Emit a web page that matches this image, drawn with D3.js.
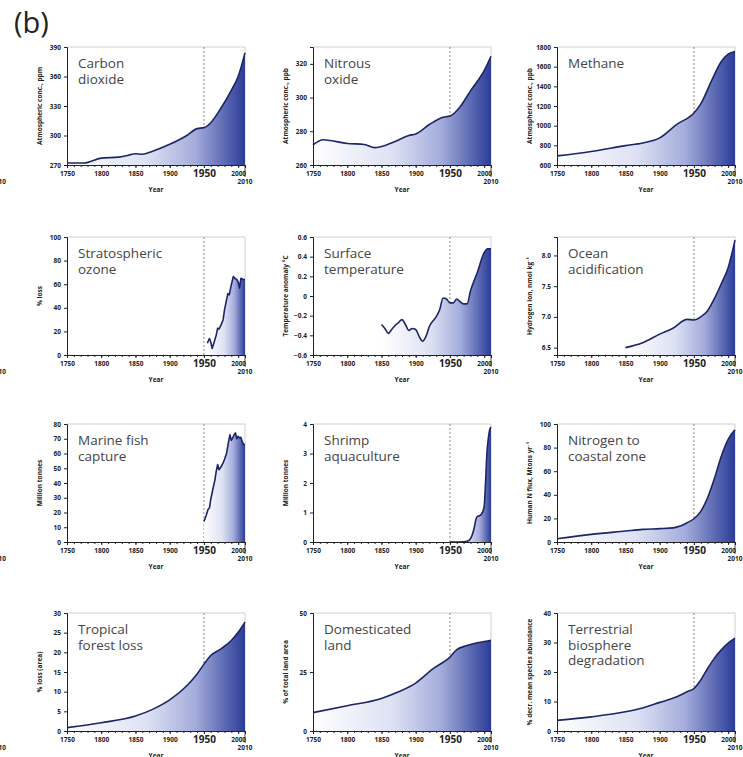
<!DOCTYPE html>
<html>
<head>
<meta charset="utf-8">
<script src="https://cdn.jsdelivr.net/npm/d3@7"></script>
<style>
  body { margin: 0; background: #fff; }
  svg { display: block; font-family: "Open Sans", "Noto Sans", sans-serif; }
</style>
</head>
<body>
<svg id="chart" width="743" height="757"></svg>
<script>
// values, [year, value]
const co2 = [[1750,272],[1775,272],[1800,277],[1825,278],[1840,280],[1850,281.5],[1860,281],[1875,284],[1900,291],[1925,300],[1940,307],[1950,308],[1960,313],[1975,328],[1990,346],[2000,360],[2010,384]];
const n2o = [[1750,272],[1765,275],[1775,274.5],[1800,272.8],[1825,272.2],[1840,270.3],[1850,271],[1870,274],[1890,277.5],[1900,278.4],[1920,284],[1940,288.3],[1950,289],[1965,294.6],[1980,304],[2000,316],[2010,324.5]];
const ch4 = [[1750,693],[1800,738],[1850,797],[1875,824],[1900,876],[1925,1014],[1950,1128],[1960,1221],[1975,1445],[1990,1652],[2000,1728],[2010,1755]];
const ozone = [[1955,10],[1958,14],[1960,11],[1962,5.6],[1965,11],[1968,17],[1970,22.6],[1972,22],[1975,25.5],[1978,29.7],[1980,38],[1983,46.7],[1985,52],[1987,51],[1990,59.5],[1993,66.6],[1995,65],[1998,64],[2000,62],[2002,56.7],[2004,65],[2007,64],[2010,64]];
const temp = [[1850,-0.29],[1855,-0.33],[1860,-0.38],[1865,-0.34],[1870,-0.30],[1875,-0.27],[1880,-0.24],[1885,-0.29],[1890,-0.35],[1895,-0.33],[1900,-0.34],[1905,-0.41],[1910,-0.46],[1915,-0.41],[1920,-0.31],[1930,-0.21],[1935,-0.14],[1940,-0.02],[1945,-0.03],[1950,-0.07],[1955,-0.07],[1960,-0.03],[1965,-0.06],[1970,-0.08],[1975,-0.08],[1980,0.05],[1990,0.24],[2000,0.44],[2005,0.48],[2010,0.48]];
const ocean = [[1850,6.5],[1875,6.58],[1900,6.72],[1920,6.82],[1940,6.96],[1950,6.95],[1960,7.0],[1970,7.1],[1980,7.3],[1990,7.54],[2000,7.8],[2010,8.25]];
const fish = [[1950,14],[1953,17.6],[1956,22],[1958,23],[1960,29],[1963,35.6],[1966,42],[1968,48],[1970,52.5],[1972,49],[1975,51],[1978,53.6],[1980,55.9],[1983,60],[1986,68],[1988,72.7],[1990,69],[1992,70.5],[1994,72.7],[1996,74],[1998,70],[2000,71.6],[2002,70.5],[2004,71],[2006,68],[2008,66],[2010,66]];
const shrimp = [[1950,0],[1970,0.01],[1975,0.02],[1980,0.11],[1985,0.43],[1988,0.77],[1990,0.86],[1993,0.89],[1996,0.94],[2000,1.2],[2002,2.0],[2004,3.0],[2006,3.5],[2008,3.8],[2010,3.9]];
const nitrogen = [[1750,2.8],[1800,6.5],[1850,9.3],[1875,10.7],[1900,11.3],[1920,12],[1930,13.5],[1940,16.3],[1950,19.7],[1960,26],[1970,37.5],[1980,54],[1990,72.7],[2000,87],[2010,95]];
const forest = [[1750,0.85],[1800,2.1],[1850,3.8],[1875,5.5],[1900,7.9],[1925,11.5],[1940,14.5],[1950,17],[1960,19.2],[1975,20.9],[1990,23],[2000,25.1],[2010,27.7]];
const land = [[1750,7.8],[1800,10.7],[1850,13.8],[1875,16.6],[1900,20.3],[1925,26.3],[1950,31.3],[1960,34.5],[1975,36.2],[1990,37.4],[2000,37.9],[2010,38.4]];
const biosphere = [[1750,3.6],[1800,4.8],[1850,6.5],[1875,7.8],[1900,9.7],[1925,11.6],[1940,13.3],[1950,14.4],[1960,17.3],[1970,21.2],[1980,24.7],[1990,27.5],[2000,29.8],[2010,31.5]];

const titles = [
  ["Carbon", "dioxide"], ["Nitrous", "oxide"], ["Methane"],
  ["Stratospheric", "ozone"], ["Surface", "temperature"], ["Ocean", "acidification"],
  ["Marine fish", "capture"], ["Shrimp", "aquaculture"], ["Nitrogen to", "coastal zone"],
  ["Tropical", "forest loss"], ["Domesticated", "land"], ["Terrestrial", "biosphere", "degradation"]
];
const yLabels = [
  "Atmospheric conc., ppm", "Atmospheric conc., ppb", "Atmospheric conc., ppb",
  "% loss", "Temperature anomaly °C", "Hydrogen ion, nmol kg\u207B\u00B9",
  "Million tonnes", "Million tonnes", "Human N flux, Mtons yr\u207B\u00B9",
  "% loss (area)", "% of total land area", "% decr. mean species abundance"
];
const yDomains = [
  [270, 390], [260, 330], [600, 1800],
  [0, 100], [-0.6, 0.6], [6.38, 8.3],
  [0, 80], [0, 4], [0, 100],
  [0, 30], [0, 50], [0, 40]
];
const yTicks = [
  [270, 300, 330, 360, 390], [260, 280, 300, 320], [600, 800, 1000, 1200, 1400, 1600, 1800],
  [0, 20, 40, 60, 80, 100], [-0.6, -0.4, -0.2, 0, 0.2, 0.4, 0.6], [6.5, 7.0, 7.5, 8.0],
  [0, 10, 20, 30, 40, 50, 60, 70, 80], [0, 1, 2, 3, 4], [0, 20, 40, 60, 80, 100],
  [0, 5, 10, 15, 20, 25, 30], [0, 25, 50], [0, 10, 20, 30, 40]
];
const series = [co2, n2o, ch4, ozone, temp, ocean, fish, shrimp, nitrogen, forest, land, biosphere];
const jagged = [false, false, false, true, false, false, true, false, false, false, false, false];
const xTicks = [1750, 1800, 1850, 1900, 1950, 2000];

const svg = d3.select('#chart');
const colLeft = [67, 313, 557];
const rowTop = [47, 237, 424, 613];
const pw = 178;
const ph = 118;
const lineColor = '#1c2566';
const axisColor = '#222';

svg.append('text')
  .attr('x', 14).attr('y', 33)
  .attr('font-size', 29).attr('fill', '#222')
  .text('(b)');

// cut-off fragments of panel (a) at the left edge
rowTop.forEach(t => {
  svg.append('text')
    .attr('x', 6).attr('y', t + ph + 19)
    .attr('text-anchor', 'end')
    .attr('font-size', 6.5).attr('font-weight', 'bold').attr('fill', axisColor)
    .text('2010');
});

const defs = svg.append('defs');

series.forEach((data, i) => {
  const left = colLeft[i % 3];
  const top = rowTop[Math.floor(i / 3)];
  const g = svg.append('g').attr('transform', `translate(${left},${top})`);

  const x = d3.scaleLinear().domain([1750, 2010]).range([0, pw]);
  const y = d3.scaleLinear().domain(yDomains[i]).range([ph, 0]);

  // gradient from first data year to 2010 (local coords of the panel)
  const gid = 'grad' + i;
  const grad = defs.append('linearGradient')
    .attr('id', gid)
    .attr('gradientUnits', 'userSpaceOnUse')
    .attr('x1', x(data[0][0])).attr('x2', x(2010))
    .attr('y1', 0).attr('y2', 0);
  [[0, '#ffffff'], [0.45, '#dde1f3'], [0.72, '#a4acdb'], [1, '#2b3c98']].forEach(s => {
    grad.append('stop').attr('offset', s[0]).attr('stop-color', s[1]);
  });

  // frame top/right
  g.append('path')
    .attr('d', `M0,0H${pw}V${ph}`)
    .attr('fill', 'none').attr('stroke', '#c4c4c4').attr('stroke-width', 0.8);

  // 1950 marker
  g.append('line')
    .attr('x1', x(1950)).attr('x2', x(1950))
    .attr('y1', 0).attr('y2', ph)
    .attr('stroke', '#8a8a8a').attr('stroke-width', 1)
    .attr('stroke-dasharray', '2,2');

  const curve = jagged[i] ? d3.curveLinear : d3.curveMonotoneX;
  const area = d3.area()
    .x(d => x(d[0]))
    .y0(ph)
    .y1(d => y(d[1]))
    .curve(curve);
  const line = d3.line()
    .x(d => x(d[0]))
    .y(d => y(d[1]))
    .curve(curve);

  g.append('path')
    .datum(data)
    .attr('d', area)
    .attr('fill', `url(#${gid})`);
  g.append('path')
    .datum(data)
    .attr('d', line)
    .attr('fill', 'none')
    .attr('stroke', lineColor)
    .attr('stroke-width', 1.6)
    .attr('stroke-linejoin', 'round');

  // y axis
  const fmt = i === 4 ? (d => d === 0 ? '0' : d3.format('.1f')(d))
    : i === 5 ? d3.format('.1f') : d3.format('d');
  const yAxis = g.append('g')
    .call(d3.axisLeft(y).tickValues(yTicks[i]).tickSize(3).tickPadding(3).tickFormat(fmt));
  yAxis.select('.domain').attr('stroke', axisColor).attr('stroke-width', 1);
  yAxis.selectAll('.tick line').attr('stroke', axisColor);
  yAxis.selectAll('text')
    .attr('font-size', 6.5).attr('font-weight', 'bold').attr('fill', axisColor)
    .attr('font-family', '"Open Sans", sans-serif');

  // x axis: minor ticks every 10 years
  const xMinor = g.append('g').attr('transform', `translate(0,${ph})`)
    .call(d3.axisBottom(x).tickValues(d3.range(1750, 2011, 10)).tickSize(2).tickFormat(''));
  xMinor.select('.domain').remove();
  xMinor.selectAll('.tick line').attr('stroke', axisColor);

  const xAxis = g.append('g').attr('transform', `translate(0,${ph})`)
    .call(d3.axisBottom(x).tickValues(xTicks).tickSize(3).tickPadding(3).tickFormat(d3.format('d')));
  xAxis.select('.domain').attr('stroke', axisColor).attr('stroke-width', 1);
  xAxis.selectAll('.tick line').attr('stroke', axisColor);
  xAxis.selectAll('text')
    .attr('font-size', d => d === 1950 ? 10 : 6.5)
    .attr('font-weight', 'bold')
    .attr('fill', axisColor)
    .attr('dy', d => d === 1950 ? '0.62em' : '0.75em')
    .attr('font-family', '"Open Sans", sans-serif');

  // 2010 end tick and label
  g.append('line')
    .attr('x1', x(2010)).attr('x2', x(2010))
    .attr('y1', ph).attr('y2', ph + 12)
    .attr('stroke', axisColor).attr('stroke-width', 0.8);
  g.append('text')
    .attr('x', x(2010)).attr('y', ph + 19)
    .attr('text-anchor', 'middle')
    .attr('font-size', 6.5).attr('font-weight', 'bold').attr('fill', axisColor)
    .text('2010');

  g.append('text')
    .attr('x', pw / 2).attr('y', ph + 27)
    .attr('text-anchor', 'middle')
    .attr('font-size', 6.5).attr('font-weight', 'bold').attr('fill', axisColor)
    .text('Year');

  g.append('text')
    .attr('transform', `translate(-25,${ph / 2}) rotate(-90)`)
    .attr('text-anchor', 'middle')
    .attr('font-size', 6.5).attr('font-weight', 'bold').attr('fill', axisColor)
    .text(yLabels[i]);

  // panel title, one text per line
  g.selectAll('.title-line')
    .data(titles[i])
    .join('text')
    .attr('class', 'title-line')
    .attr('x', 11)
    .attr('y', (d, k) => 21 + k * 15.5)
    .attr('font-size', 13.5)
    .attr('fill', '#454545')
    .text(d => d);
});
</script>
</body>
</html>
